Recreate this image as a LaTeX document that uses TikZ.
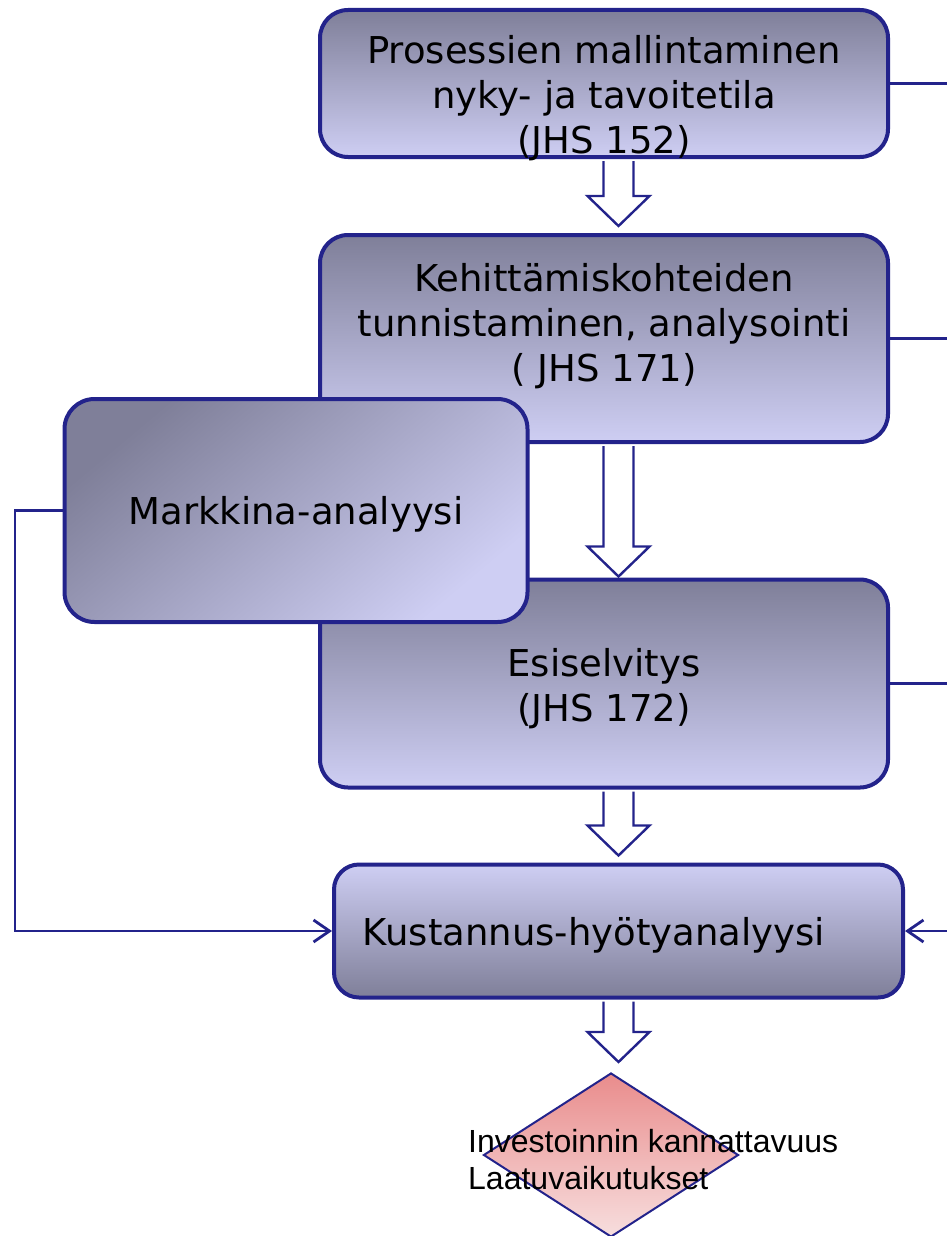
\documentclass[tikz,border=0pt]{standalone}
\usepackage{fontspec}
\setmainfont{DejaVu Sans}
\newfontfamily\arialfont{Liberation Sans}
\usepackage{tikz}
\usetikzlibrary{positioning,calc,shapes.geometric,arrows.meta}
\definecolor{navy}{RGB}{35,35,139}
\definecolor{shadedark}{RGB}{127,127,153}
\definecolor{shadelight}{RGB}{206,206,243}
\definecolor{rosedark}{RGB}{233,140,140}
\definecolor{roselight}{RGB}{247,222,222}

\newcommand{\fatarrow}[2]{%
	\draw[hollow] let \p1=(#1), \p2=(#2) in
	(\x1-15pt,\y1) -- (\x1-15pt,\y2+30pt) -- (\x1-31pt,\y2+30pt) -- (\x1,\y2)
	-- (\x1+31pt,\y2+30pt) -- (\x1+15pt,\y2+30pt) -- (\x1+15pt,\y1);}

\begin{document}
\begin{tikzpicture}[x=1pt,y=-1pt]
				
				\tikzset{stagebox/.style 2 args={
						draw=navy, line width=4pt,
						rounded corners=28pt,
						top color=shadedark, bottom color=shadelight,
						minimum width=#1, minimum height=#2,
						inner sep=0pt
					},
					marketbox/.style={
						draw=navy, line width=4pt,
						rounded corners=30pt,
						top color=shadedark, bottom color=shadelight, shading angle=40,
						minimum width=463pt, minimum height=223pt,
						font=\fontsize{37}{45}\selectfont, text depth=0pt,
						inner sep=0pt
					},
					costbox/.style={
						draw=navy, line width=4pt,
						rounded corners=25pt,
						top color=shadelight, bottom color=shadedark,
						minimum width=569pt, minimum height=133pt,
						font=\fontsize{37}{45}\selectfont, text depth=0pt,
						inner sep=0pt
					},
					decision/.style={
						diamond, draw=navy, line width=2pt,
						top color=rosedark, bottom color=roselight,
						minimum width=255pt, minimum height=164pt,
						inner sep=0pt
					},
					boxtext/.style={
						font=\fontsize{37}{45}\selectfont,
						align=center, inner sep=0pt
					},
					diamtext/.style={
						font=\arialfont\fontsize{32}{37}\selectfont,
						anchor=west, align=left, inner sep=0pt
					},
					flowline/.style={draw=navy, line width=2.8pt},
					hollow/.style={draw=navy, line width=2.4pt, fill=white}
				}
				
				\useasboundingbox (0,0) rectangle (946,1236);
				
				\node[stagebox={568pt}{147pt}] (proc) at (604,83.5) {};
				\node[boxtext] (proctxt) at ($(proc)+(0,15)$) {Prosessien mallintaminen\\nyky- ja tavoitetila\\(JHS 152)};
				
				\node[stagebox={568pt}{207pt}] (dev) at (604,338.5) {};
				\node[boxtext] (devtxt) at ($(dev)+(0,-12)$) {Kehittämiskohteiden\\tunnistaminen, analysointi\\( JHS 171)};
				
				\node[stagebox={568pt}{208pt}] (pre) at (604,683.5) {};
				\node[boxtext] (pretxt) at ($(pre)+(0,5)$) {Esiselvitys\\(JHS 172)};
				
				\node[marketbox] (mark) at (296,510.5) {Markkina-analyysi};
				
				\node[costbox] (cost) at (618.5,931) {Kustannus-hyötyanalyysi\hspace*{49pt}};
				
				\node[decision] (gain) at (611,1155) {};
				\node[diamtext] (gaintxt) at (468,1160) {Investoinnin kannattavuus\\Laatuvaikutukset};
				
				\fatarrow{$(proc.south -| cost)+(0,2)$}{$(dev.north -| cost)+(0,-7)$}
				\fatarrow{$(dev.south -| cost)+(0,2)$}{$(pre.north -| cost)+(0,-1)$}
				\fatarrow{$(pre.south -| cost)+(0,2)$}{$(cost.north -| cost)+(0,-7)$}
				\fatarrow{$(cost.south -| cost)+(0,2)$}{$(gain.north)+(7,-10)$}
				
				\coordinate (rim) at (960,0);
				\coordinate (rail) at (15,0);
				
				\draw[flowline] (proc.east) -- (proc.east -| rim);
				\draw[flowline] (dev.east) -- (dev.east -| rim);
				\draw[flowline] (pre.east) -- (pre.east -| rim);
				\draw[flowline, -{Straight Barb[length=16pt,width=22pt]}] (cost.east -| rim) -- (cost.east);
				\draw[flowline, -{Straight Barb[length=16pt,width=22pt]}] (mark.west) -- (mark.west -| rail) |- (cost.west);
				
\end{tikzpicture}
\end{document}
